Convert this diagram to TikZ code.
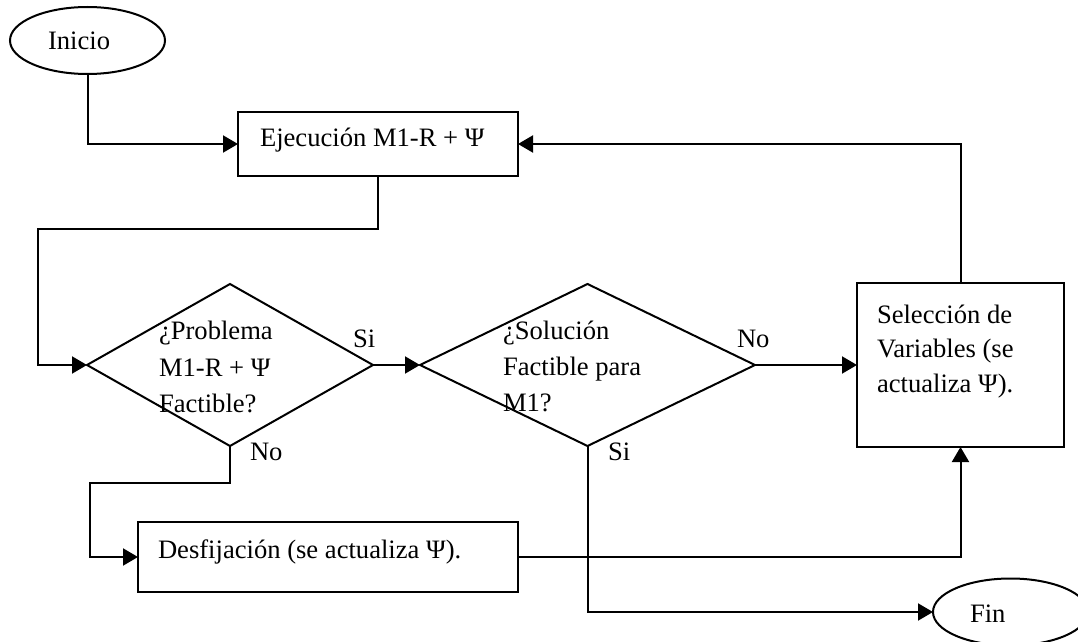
\documentclass[tikz,border=0pt]{standalone}
\usepackage{fontspec}
\setmainfont{Liberation Serif}
\usetikzlibrary{arrows.meta,shapes.geometric}

\begin{document}
\begin{tikzpicture}[x=0.5pt,y=-0.5pt,
  every node/.style={inner sep=0pt, outer sep=0pt},
  line/.style={line width=1pt},
  arr/.style={line, -{Triangle[length=7.5pt,width=8.5pt]}},
  box/.style={draw, line width=1pt, rectangle},
  term/.style={draw, line width=1pt, ellipse, minimum width=77.5pt, minimum height=33.5pt},
  dec/.style={draw, line width=1pt, diamond},
  txt/.style={anchor=base west, align=left, font=\fontsize{13.3}{18}\selectfont},
]
% page frame (pixel-like units, y downwards)
\clip (0,0) rectangle (1078,642);

% shapes
\node[term] (inicio) at (87.5,40.5) {};
\node[box, minimum width=140pt, minimum height=32pt] (ejec) at (378,144) {};
\node[dec, minimum width=143pt, minimum height=81pt] (d1) at (230,365) {};
\node[dec, minimum width=167.5pt, minimum height=81pt] (d2) at (587.5,365) {};
\node[box, minimum width=103.5pt, minimum height=82pt] (sel) at (960.5,365) {};
\node[box, minimum width=190pt, minimum height=35pt] (desf) at (328,557) {};
\node[term] (fin) at (1010.5,612) {};

% texts (multi-line blocks are placed by the baseline of their last line)
\node[txt] (tinicio) at (48,50) {Inicio};
\node[txt] (tejec) at (260,147) {Ejecución M1-R + Ψ};
\node[txt] (td1) at (159,412) {¿Problema\\M1-R + Ψ\\Factible?};
\node[txt] (td2) at (503,411) {¿Solución\\Factible para\\M1?};
\node[txt, font=\fontsize{13.3}{17.5}\selectfont] (tsel) at (877,393) {Selección de\\Variables (se\\actualiza Ψ).};
\node[txt] (tdesf) at (158,558) {Desfijación (se actualiza Ψ).};
\node[txt] (tfin) at (970,622) {Fin};

% branch labels
\node[txt] (si1) at (353,347) {Si};
\node[txt] (no2) at (737,347) {No};
\node[txt] (no1) at (250,460) {No};
\node[txt] (si2) at (608,460) {Si};

% bend points
\coordinate (c1) at (38,229);
\coordinate (c2) at (90,483);

% connectors
\draw[arr] (inicio.south) |- (ejec.west);
\draw[arr] (ejec.south) |- (c1) |- (d1.west);
\draw[arr] (d1.east) -- (d2.west);
\draw[arr] (d2.east) -- (sel.west);
\draw[arr] (sel.north) |- (ejec.east);
\draw[arr] (d1.south) |- (c2) |- (desf.west);
\draw[arr] (desf.east) -| (sel.south);
\draw[arr] (d2.south) |- (fin.west);
\end{tikzpicture}
\end{document}
